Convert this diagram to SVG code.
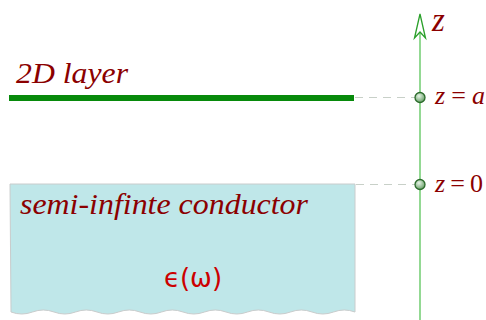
<svg xmlns="http://www.w3.org/2000/svg" width="486" height="320" viewBox="0 0 486 320">
<style>
.lbl{font-family:"Liberation Serif",serif;font-style:italic;fill:#8b0000}
.dash{stroke:#c8d0c8;stroke-width:1.2;stroke-dasharray:8,6;fill:none}
.pt{fill:url(#g);stroke:#2a6a2a;stroke-width:1.3}
</style>
<defs>
<radialGradient id="g" cx="0.4" cy="0.35" r="0.7">
<stop offset="0" stop-color="#e8f4e8"/>
<stop offset="1" stop-color="#5f9a5f"/>
</radialGradient>
</defs>
<g id="conductor">
<path d="M10,184 H355 V312 q-10.75,-4 -21.5,0 t-21.5,0 t-21.5,0 t-21.5,0 t-21.5,0 t-21.5,0 t-21.5,0 t-21.5,0 t-21.5,0 t-21.5,0 t-21.5,0 t-21.5,0 t-21.5,0 t-21.5,0 t-21.5,0 t-21.5,0 Z" fill="#bfe7e9" stroke="#c9cccc" stroke-width="1"/>
<text class="lbl" x="20" y="214" font-size="30" textLength="288" lengthAdjust="spacingAndGlyphs">semi-infinte conductor</text>
<text x="193" y="287" font-family="'DejaVu Sans',sans-serif" font-size="26" fill="#cc0000" text-anchor="middle">ϵ(ω)</text>
</g>
<g id="layer">
<rect x="9" y="95" width="345" height="6" fill="#078a0b"/>
<text class="lbl" x="16" y="83" font-size="30" textLength="112" lengthAdjust="spacingAndGlyphs">2D layer</text>
</g>
<g id="connectors">
<line class="dash" x1="355" y1="97.5" x2="420" y2="97.5"/>
<line class="dash" x1="356" y1="184.5" x2="420" y2="184.5"/>
<line x1="420" y1="16" x2="420" y2="320" stroke="#4cc04c" stroke-width="1.2"/>
<path d="M414.5,38 L420,14 L425.5,38 L420,32 Z" fill="#fff" stroke="#2aa02a" stroke-width="1.3" stroke-linejoin="miter"/>
</g>
<g id="axis-label">
<text class="lbl" x="432" y="31" font-size="33">z</text>
</g>
<g id="za">
<circle class="pt" cx="420" cy="97.5" r="5"/>
<text class="lbl" x="435" y="104" font-size="26" textLength="50" lengthAdjust="spacing">z<tspan font-style="normal">=</tspan>a</text>
</g>
<g id="z0">
<circle class="pt" cx="420" cy="184.5" r="5"/>
<text class="lbl" x="435" y="192" font-size="26" textLength="48" lengthAdjust="spacing">z<tspan font-style="normal">=0</tspan></text>
</g>
</svg>
